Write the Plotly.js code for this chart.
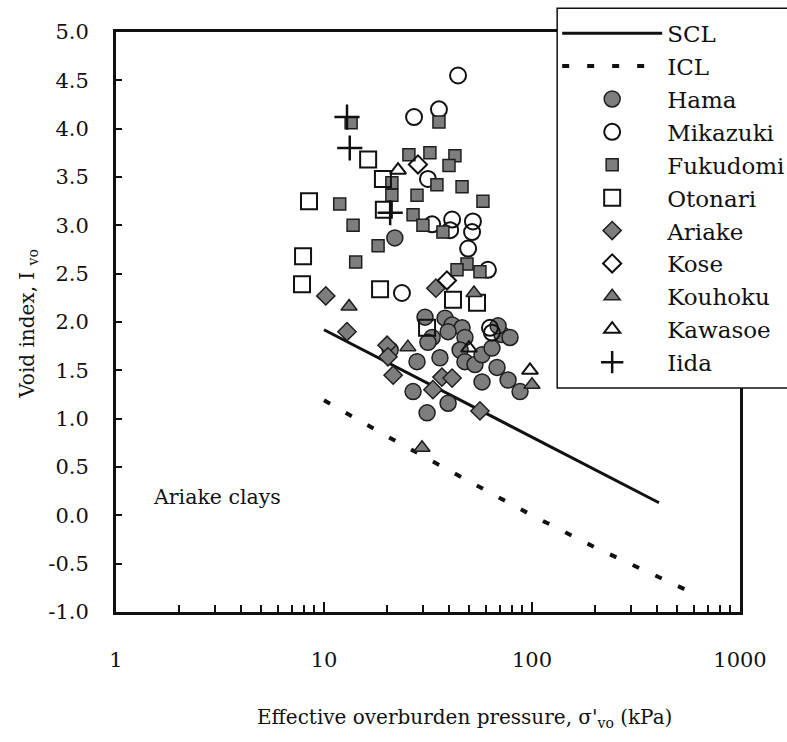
<!DOCTYPE html>
<html>
<head>
<meta charset="utf-8">
<script src="https://cdn.plot.ly/plotly-3.0.1.min.js"></script>
<style>
html,body{margin:0;padding:0;background:#fff;font-family:'DejaVu Serif',serif;}
#chart{width:787px;height:742px;}
</style>
</head>
<body>
<div id="chart"></div>
<script>
// ---- data ----
const sclX = [10, 408];
const sclY = [1.92, 0.13];
const iclX = [10, 20, 50, 100, 200, 400, 575];
const iclY = [1.19, 0.82, 0.35, 0.00, -0.33, -0.63, -0.79];

const hamaX = [21.9, 30.6, 38.2, 41.3, 46.1, 47.6, 45.1, 47.6, 53.2, 57.5, 64.2, 71.7, 78.4, 68.7, 33.1, 31.6, 39.5, 36.1, 28.0, 67.9, 76.7, 57.5, 87.6, 26.8, 39.5, 31.3, 20.8];
const hamaY = [2.87, 2.05, 2.04, 1.97, 1.94, 1.84, 1.71, 1.59, 1.56, 1.66, 1.73, 1.87, 1.84, 1.96, 1.84, 1.79, 1.90, 1.63, 1.59, 1.53, 1.40, 1.38, 1.28, 1.28, 1.16, 1.06, 1.71];

const mikazukiX = [44.1, 27.1, 35.7, 31.6, 33.1, 41.3, 40.4, 52.0, 51.5, 49.3, 61.4, 23.7, 62.8, 64.2];
const mikazukiY = [4.55, 4.12, 4.20, 3.48, 3.01, 3.06, 2.95, 3.04, 2.93, 2.76, 2.54, 2.30, 1.94, 1.89];

const fukudomiX = [13.5, 11.9, 13.8, 14.2, 18.2, 21.2, 21.2, 35.7, 25.6, 32.3, 42.6, 39.9, 34.9, 46.1, 28.0, 58.1, 26.8, 29.9, 37.3, 48.7, 43.6, 56.2];
const fukudomiY = [4.06, 3.22, 3.00, 2.62, 2.79, 3.44, 3.31, 4.07, 3.73, 3.75, 3.72, 3.62, 3.42, 3.40, 3.31, 3.25, 3.11, 3.00, 2.93, 2.60, 2.54, 2.52];

const otonariX = [16.3, 19.2, 8.47, 19.4, 7.93, 7.84, 18.6, 41.7, 54.4, 31.3];
const otonariY = [3.68, 3.48, 3.25, 3.16, 2.68, 2.39, 2.34, 2.23, 2.20, 1.94];

const ariakeX = [10.2, 12.9, 34.5, 20.1, 20.3, 21.5, 36.9, 41.3, 33.4, 56.2];
const ariakeY = [2.27, 1.90, 2.35, 1.76, 1.64, 1.45, 1.43, 1.42, 1.30, 1.08];

const koseX = [28.3, 39.0];
const koseY = [3.63, 2.43];

const kouhokuX = [13.2, 52.6, 25.3, 100, 29.6];
const kouhokuY = [2.16, 2.30, 1.74, 1.35, 0.70];

const kawasoeX = [22.7, 49.8, 97.8];
const kawasoeY = [3.57, 1.73, 1.50];

const iidaX = [12.9, 13.3, 20.8];
const iidaY = [4.12, 3.80, 3.13];

const xTickVals = [1, 10, 100, 1000];
const xTickText = ['1', '10', '100', '1000'];
const yTickVals = [-1.0, -0.5, 0.0, 0.5, 1.0, 1.5, 2.0, 2.5, 3.0, 3.5, 4.0, 4.5, 5.0];
const yTickText = ['-1.0', '-0.5', '0.0', '0.5', '1.0', '1.5', '2.0', '2.5', '3.0', '3.5', '4.0', '4.5', '5.0'];

// ---- styling ----
const FONT = 'DejaVu Serif';
const FS = 20;
const GRAY = '#7d7d7d';
const EDGE = '#1e1e1e';

function filled(name, x, y, symbol, size) {
  return {type: 'scatter', mode: 'markers', name: name, x: x, y: y,
    marker: {symbol: symbol, size: size, color: GRAY, line: {color: EDGE, width: 1.5}}};
}
function open(name, x, y, symbol, size) {
  return {type: 'scatter', mode: 'markers', name: name, x: x, y: y,
    marker: {symbol: symbol, size: size, color: 'rgba(255,255,255,0)', line: {color: '#111', width: 2}}};
}

const traces = [
  {type: 'scatter', mode: 'lines', name: 'SCL', x: sclX, y: sclY, line: {color: '#111', width: 3}},
  {type: 'scatter', mode: 'lines', name: 'ICL', x: iclX, y: iclY, line: {color: '#111', width: 4, dash: '7px,18px'}},
  filled('Hama', hamaX, hamaY, 'circle', 16),
  open('Mikazuki', mikazukiX, mikazukiY, 'circle', 16),
  filled('Fukudomi', fukudomiX, fukudomiY, 'square', 12),
  open('Otonari', otonariX, otonariY, 'square', 16),
  filled('Ariake', ariakeX, ariakeY, 'diamond', 14),
  open('Kose', koseX, koseY, 'diamond', 14),
  filled('Kouhoku', kouhokuX, kouhokuY, 'triangle-up', 14),
  open('Kawasoe', kawasoeX, kawasoeY, 'triangle-up', 14),
  {type: 'scatter', mode: 'markers', name: 'Iida', x: iidaX, y: iidaY,
    marker: {symbol: 'cross-thin', size: 18, color: '#111', line: {color: '#111', width: 2.5}}}
];

const minorVals = [];
for (let d = 1; d < 1000; d *= 10) { for (let k = 2; k <= 9; k++) minorVals.push(k * d); }

const layout = {
  width: 787, height: 742,
  margin: {l: 116, r: 47, t: 32, b: 130, autoexpand: false},
  paper_bgcolor: '#fff', plot_bgcolor: '#fff',
  font: {family: FONT, size: FS, color: '#111'},
  showlegend: true,
  legend: {
    x: 0.707, y: 1.035, xanchor: 'left', yanchor: 'top',
    bgcolor: 'rgba(0,0,0,0)', borderwidth: 0,
    font: {family: FONT, size: 23, color: '#111'},
    itemwidth: 100, tracegroupgap: 0, maxheight: 720
  },
  xaxis: {
    type: 'log', range: [0, 3],
    tickvals: xTickVals, ticktext: xTickText,
    ticks: 'inside', ticklen: 10, tickwidth: 2, tickcolor: '#111',
    minor: {tickvals: minorVals, ticks: 'inside', ticklen: 7, tickwidth: 2, tickcolor: '#111', showgrid: false},
    showline: true, linecolor: '#111', linewidth: 3, mirror: true,
    showgrid: false, zeroline: false,
    ticklabelstandoff: 27,
    tickfont: {family: FONT, size: 21, color: '#111'}
  },
  yaxis: {
    range: [-1, 5],
    tickvals: yTickVals, ticktext: yTickText,
    ticks: 'inside', ticklen: 6, tickwidth: 2, tickcolor: '#111',
    showline: true, linecolor: '#111', linewidth: 3, mirror: true,
    showgrid: false, zeroline: false,
    ticklabelstandoff: 20,
    tickfont: {family: FONT, size: 21, color: '#111'}
  },
  shapes: [
    {type: 'rect', xref: 'paper', yref: 'paper', x0: 0.707, x1: 1.2, y0: 0.386, y1: 1.041,
      layer: 'above', fillcolor: '#fff', line: {color: '#111', width: 1.5}}
  ],
  annotations: [
    {text: 'Ariake clays', x: Math.log10(3.06), y: 0.19, xref: 'x', yref: 'y', showarrow: false,
      font: {family: FONT, size: 20.5, color: '#111'}},
    {text: "Effective overburden pressure, σ'<sub>vo</sub> (kPa)", xref: 'paper', yref: 'paper',
      x: 0.558, y: -0.183, showarrow: false, xanchor: 'center', yanchor: 'middle',
      font: {family: FONT, size: FS, color: '#111'}},
    {text: 'Void index, I <sub>vo</sub>', xref: 'paper', yref: 'paper', textangle: -90,
      x: -0.141, y: 0.497, showarrow: false, xanchor: 'center', yanchor: 'middle',
      font: {family: FONT, size: FS, color: '#111'}}
  ]
};

Plotly.newPlot('chart', traces, layout, {displayModeBar: false, staticPlot: true});
</script>
</body>
</html>
